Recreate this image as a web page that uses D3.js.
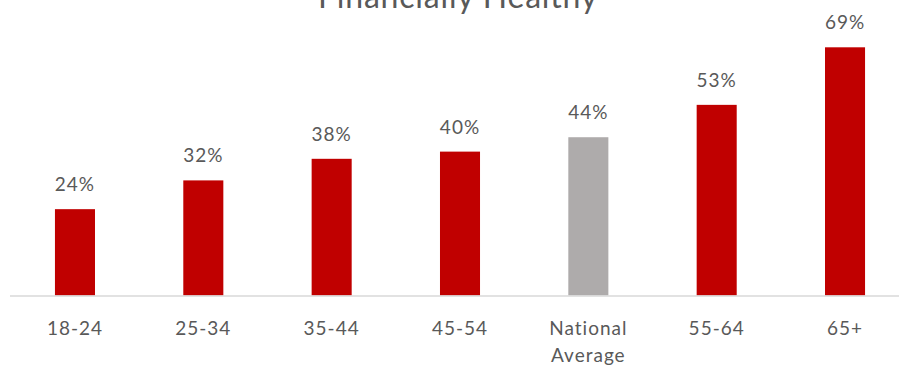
<!DOCTYPE html>
<html>
<head>
<meta charset="utf-8">
<script src="https://cdn.jsdelivr.net/npm/d3@7"></script>
<style>
  body { margin: 0; background: #fff; }
  text { font-family: Lato, "Open Sans", sans-serif; fill: #595959; }
</style>
</head>
<body>
<div id="chart"></div>
<script>
const categories = ["18-24", "25-34", "35-44", "45-54", "National Average", "55-64", "65+"];
const values = [24, 32, 38, 40, 44, 53, 69];
const highlight = ["National Average"];
const title = "Financially Healthy";

const svgWidth = 899;
const svgHeight = 367;
const baseline = 295.5;

const svg = d3.select("#chart")
    .append("svg")
    .attr("width", svgWidth)
    .attr("height", svgHeight);

const xScale = d3.scaleBand()
    .domain(categories)
    .range([10.8, 909.2])
    .paddingInner(0.688)
    .paddingOuter(0.344);

const yScale = d3.scaleLinear()
    .domain([0, 69])
    .range([baseline, 47.3]);

svg.append("text")
    .attr("x", 458)
    .attr("y", 8)
    .attr("text-anchor", "middle")
    .style("font-size", "32px")
    .style("letter-spacing", "0.8px")
    .text(title);

svg.selectAll(".bar")
    .data(values)
    .enter()
    .append("rect")
    .attr("class", "bar")
    .attr("x", (d, i) => xScale(categories[i]))
    .attr("y", d => yScale(d))
    .attr("width", xScale.bandwidth())
    .attr("height", d => baseline - yScale(d))
    .attr("fill", (d, i) => highlight.includes(categories[i]) ? "#AEABAB" : "#C00000");

svg.selectAll(".value")
    .data(values)
    .enter()
    .append("text")
    .attr("class", "value")
    .attr("x", (d, i) => xScale(categories[i]) + xScale.bandwidth() / 2)
    .attr("y", d => yScale(d) - 18)
    .attr("text-anchor", "middle")
    .style("font-size", "19px")
    .style("letter-spacing", "1px")
    .text(d => d + "%");

// axis line
svg.append("line")
    .attr("x1", 10)
    .attr("x2", 899)
    .attr("y1", baseline + 0.5)
    .attr("y2", baseline + 0.5)
    .attr("stroke", "#D9D9D9")
    .attr("stroke-width", 1.5);

const ticks = svg.selectAll(".tick-label")
    .data(categories)
    .enter()
    .append("text")
    .attr("class", "tick-label")
    .attr("x", d => xScale(d) + xScale.bandwidth() / 2)
    .attr("y", 335)
    .attr("text-anchor", "middle")
    .style("font-size", "19px")
    .style("letter-spacing", "1px");

ticks.each(function(d) {
  const words = d.split(" ");
  const t = d3.select(this);
  words.forEach((w, j) => {
    t.append("tspan")
      .attr("x", xScale(d) + xScale.bandwidth() / 2)
      .attr("dy", j === 0 ? 0 : 27)
      .text(w);
  });
});
</script>
</body>
</html>
